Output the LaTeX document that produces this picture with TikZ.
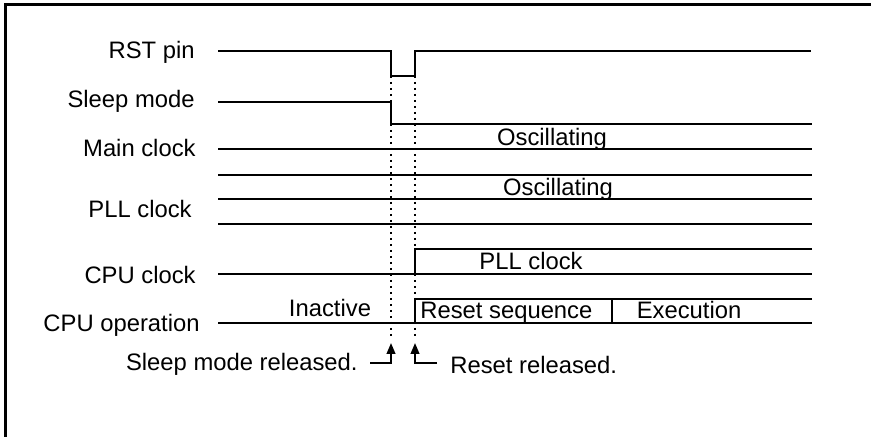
\documentclass[tikz,border=0pt]{standalone}
\usepackage{fontspec}
\setmainfont{Liberation Sans}
\usetikzlibrary{arrows.meta,positioning,calc}

\begin{document}
\begin{tikzpicture}[x=0.5pt,y=-0.5pt,
lbl/.style={anchor=base east, inner sep=0pt, font=\fontsize{11.9}{14}\selectfont},
txt/.style={anchor=base, inner sep=0pt, font=\fontsize{11.9}{14}\selectfont},
wave/.style={line width=1.2pt},
marker/.style={line width=1pt, dash pattern=on 0.8pt off 2.2pt},
arrow/.style={-{Triangle[length=1.9mm, width=1.5mm]}, line width=1pt}
]
\useasboundingbox (0,0) rectangle (871,437);
\draw[line width=1.5pt] (5,437) -- (5,5) -- (871,5);

\node[lbl] (rst) at (195,59) {RST pin};
\node[lbl] (slp) at (195,108) {Sleep mode};
\node[lbl] (mclk) at (196,157) {Main clock};
\node[lbl] (pclk) at (192,218) {PLL clock};
\node[lbl] (cclk) at (196,284) {CPU clock};
\node[lbl] (cop) at (200,332) {CPU operation};

\coordinate (t1) at (391,0);
\coordinate (t2) at (415,0);

\draw[wave] (218,51) -- (391,51) -- (391,76) -- (415,76) -- (415,51) -- (811,51);
\draw[wave] (218,102) -- (391,102) -- (391,124) -- (812,124);
\draw[wave] (218,149) -- (812,149);
\draw[wave] (218,175) -- (812,175);
\draw[wave] (218,199) -- (812,199);
\draw[wave] (218,224) -- (812,224);
\draw[wave] (218,274) -- (812,274);
\draw[wave] (812,249) -- (415,249) -- (415,274);
\draw[wave] (218,323) -- (812,323);
\draw[wave] (812,299) -- (415,299) -- (415,323);
\draw[wave] (612,299) -- (612,323);

\draw[marker] (t1 |- 0,76) -- (t1 |- 0,337);
\draw[marker] (t2 |- 0,76) -- (t2 |- 0,337);

\node[txt] (osc1) at (552,146) {Oscillating};
\node[txt] (osc2) at (558,196) {Oscillating};
\node[txt] (pll) at (531,270) {PLL clock};
\node[txt] (inact) at (330,317) {Inactive};
\node[txt, anchor=base west] (rseq) at (420,319) {Reset sequence};
\node[txt] (exe) at (689,319) {Execution};

\node[lbl] (slpr) at (358,371) {Sleep mode released.};
\node[txt, anchor=base west] (rstr) at (450,374) {Reset released.};

\coordinate (sa) at (370,363);
\coordinate (ra) at (437,363);
\draw[arrow] (sa) -| (t1 |- 0,343);
\draw[arrow] (ra) -| (t2 |- 0,343);
\end{tikzpicture}
\end{document}
